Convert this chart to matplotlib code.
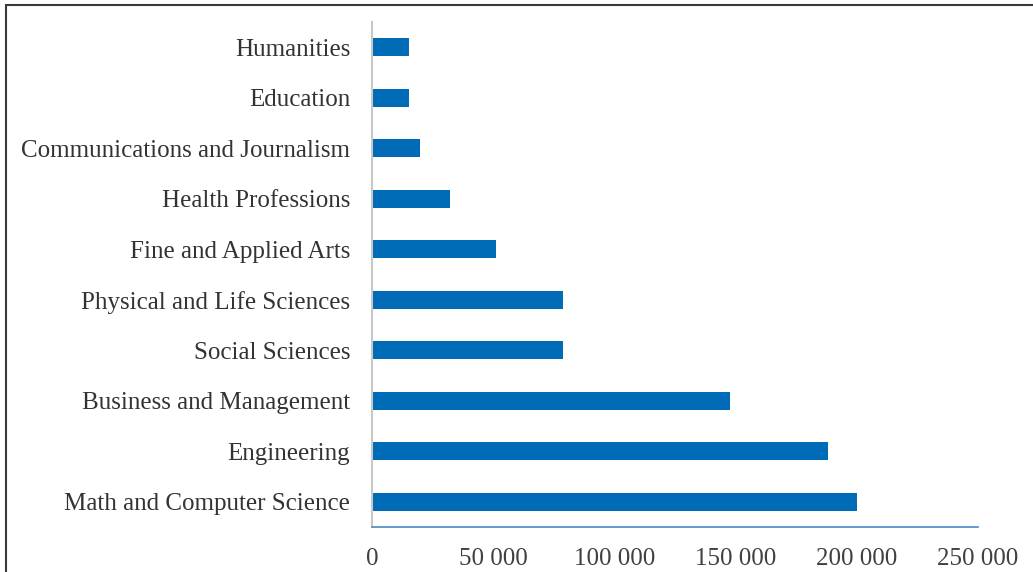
import matplotlib.pyplot as plt
from matplotlib.patches import Rectangle
from matplotlib.ticker import FuncFormatter

categories = [
    "Math and Computer Science",
    "Engineering",
    "Business and Management",
    "Social Sciences",
    "Physical and Life Sciences",
    "Fine and Applied Arts",
    "Health Professions",
    "Communications and Journalism",
    "Education",
    "Humanities",
]
values = [200000, 188000, 147500, 78500, 78500, 51000, 32000, 19500, 15000, 15000]
xticks = [0, 50000, 100000, 150000, 200000, 250000]

plt.rcParams["font.family"] = ["Liberation Serif", "DejaVu Serif"]

fig = plt.figure(figsize=(10.33, 5.72), dpi=100)
ax = fig.add_axes([0.3606, 0.0787, 0.5862, 0.8828])

ax.barh(range(len(categories)), values, height=0.36, color="#006bb6")
ax.set_ylim(-0.5, len(categories) - 0.5)
ax.set_xlim(0, 250000)
ax.set_yticks(range(len(categories)))
ax.set_yticklabels(categories, fontsize=18, color="#333333")
ax.set_xticks(xticks)
ax.xaxis.set_major_formatter(FuncFormatter(lambda v, p: f"{int(v):,}".replace(",", " ")))
ax.tick_params(axis="x", length=0, pad=15, labelsize=18, labelcolor="#404040")
ax.tick_params(axis="y", length=0, pad=16)

for s in ("top", "right"):
    ax.spines[s].set_visible(False)
ax.spines["left"].set_color("#c8c8c8")
ax.spines["left"].set_linewidth(1.5)
ax.spines["bottom"].set_color("#4a86c5")
ax.spines["bottom"].set_linewidth(1.2)

# outer frame, cut off at right and bottom like the source image
fig.patches.append(Rectangle((6 / 1033, -0.1), 1.2, 0.1 + 1 - 5 / 572,
                             transform=fig.transFigure, fill=False,
                             edgecolor="#3a3a3a", linewidth=1.5))

fig.savefig("out.png", dpi=100)
